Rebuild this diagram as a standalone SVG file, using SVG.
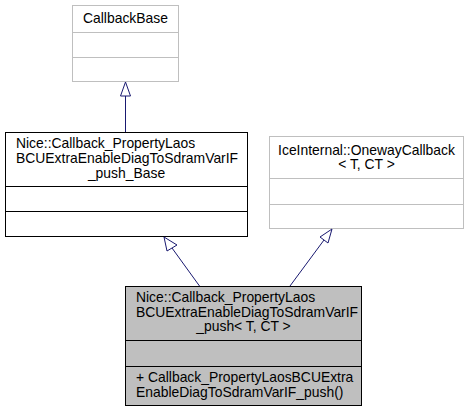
<svg xmlns="http://www.w3.org/2000/svg" width="469" height="412" viewBox="0 0 469 412">
<style>
text{font-family:"Liberation Sans",Arial,sans-serif;font-size:13.9px;fill:#000}
.c{text-anchor:middle}
.g rect,.g line{stroke:#bfbfbf;fill:#fff}
.k rect,.k line{stroke:#000;fill:#fff}
.cur rect{fill:#bfbfbf;stroke:#000}
.cur line{stroke:#000}
.e{stroke:#191970;fill:none}
.ah{stroke:#191970;fill:#fff}
</style>
<rect width="469" height="412" fill="#fff"/>
<g id="CallbackBase" class="g">
<rect x="72.5" y="5.5" width="106" height="76"/>
<line x1="72.5" y1="32.5" x2="178.5" y2="32.5"/>
<line x1="72.5" y1="57.5" x2="178.5" y2="57.5"/>
<text class="c" x="125.5" y="23">CallbackBase</text>
</g>
<g id="Base" class="k">
<rect x="5.5" y="132.5" width="242" height="104"/>
<line x1="5.5" y1="186.5" x2="247.5" y2="186.5"/>
<line x1="5.5" y1="211.5" x2="247.5" y2="211.5"/>
<text x="16" y="148">Nice::Callback_PropertyLaos</text>
<text x="16" y="163">BCUExtraEnableDiagToSdramVarIF</text>
<text class="c" x="126.5" y="178">_push_Base</text>
</g>
<g id="OnewayCallback" class="g">
<rect x="269.5" y="136.5" width="194" height="92"/>
<line x1="269.5" y1="178.5" x2="463.5" y2="178.5"/>
<line x1="269.5" y1="204.5" x2="463.5" y2="204.5"/>
<text class="c" x="366.5" y="155">IceInternal::OnewayCallback</text>
<text class="c" x="366.5" y="169">&lt; T, CT &gt;</text>
</g>
<g id="Push" class="cur">
<rect x="125.5" y="286.5" width="236" height="119"/>
<line x1="125.5" y1="340.5" x2="361.5" y2="340.5"/>
<line x1="125.5" y1="366.5" x2="361.5" y2="366.5"/>
<text x="136" y="302">Nice::Callback_PropertyLaos</text>
<text x="136" y="317">BCUExtraEnableDiagToSdramVarIF</text>
<text class="c" x="243.5" y="331">_push&lt; T, CT &gt;</text>
<text x="136" y="382">+ Callback_PropertyLaosBCUExtra</text>
<text x="136" y="397">EnableDiagToSdramVarIF_push()</text>
</g>
<g id="connectors">
<line class="e" x1="125.5" y1="132" x2="125.5" y2="96"/>
<polygon class="ah" points="125.5,82 120.5,96 130.5,96"/>
<line class="e" x1="199.5" y1="286" x2="172" y2="248"/>
<polygon class="ah" points="164,237 167,251 177,245"/>
<line class="e" x1="290" y1="286" x2="324" y2="240"/>
<polygon class="ah" points="332,229 320,237 328,243"/>
</g>
</svg>
